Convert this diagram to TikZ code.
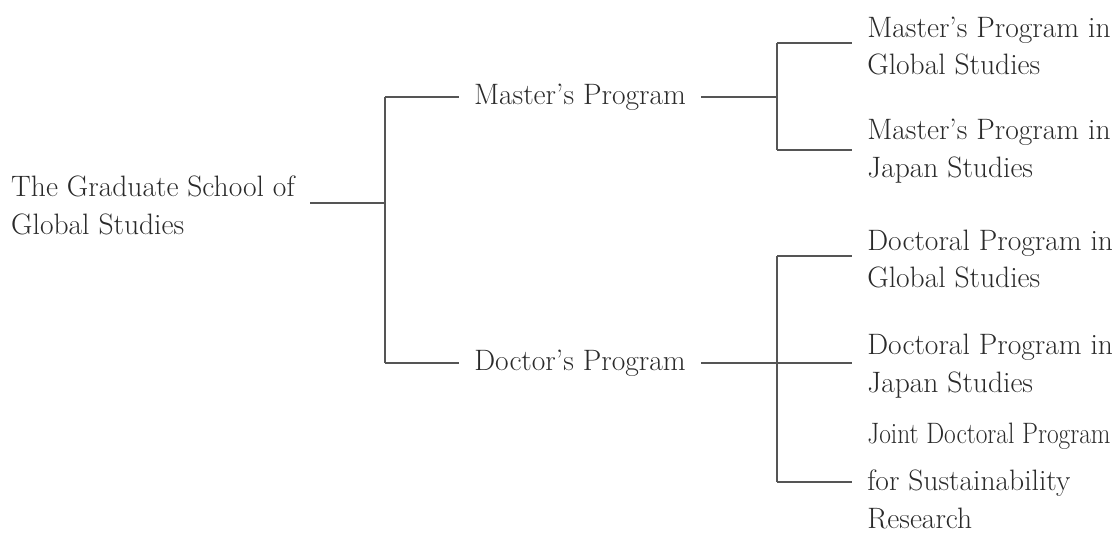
\documentclass[tikz,border=0pt]{standalone}
\usepackage{fontspec}
\usepackage{graphicx}
\usetikzlibrary{positioning}
\definecolor{txtgray}{HTML}{2A2A2A}
\definecolor{linegray}{HTML}{555555}
\begin{document}
\begin{tikzpicture}[x=0.02cm,y=-0.02cm,
  entry/.style={inner xsep=0.3cm, inner ysep=0pt, align=left, text=txtgray,
    font=\fontsize{16.8}{21.5}\selectfont},
  link/.style={draw=linegray, line width=0.6pt}]

\useasboundingbox (0,0) rectangle (1117,532);

% school and the two programs
\node[entry, anchor=east] (school) at (310,205) {The Graduate School of\\Global Studies};
\node[entry] (master) at (580,97) {Master's Program};
\node[entry] (doctor) at (580,363) {Doctor's Program};

% courses
\node[entry, anchor=west] (mglobal) at (852,46) {Master's Program in\\Global Studies};
\node[entry, anchor=west] (mjapan) at (852,151) {Master's Program in\\Japan Studies};
\node[entry, anchor=west] (dglobal) at (852,259) {Doctoral Program in\\Global Studies};
\node[entry, anchor=west] (djapan) at (852,366) {Doctoral Program in\\Japan Studies};
\node[entry, anchor=west] (joint) at (852,476)
  {\scalebox{0.86}[1]{Joint Doctoral Program}\\[5pt]for Sustainability\\Research};

% fork points
\coordinate (root) at (385,203);
\coordinate (mg) at (777,43);
\coordinate (mj) at (777,150);
\coordinate (dg) at (777,256);
\coordinate (dj) at (777,363);
\coordinate (jd) at (777,482);

\draw[link] (school.east |- root) -- (root);
\draw[link] (root |- master.west) -- (root |- doctor.west);
\draw[link] (root |- master.west) -- (master.west);
\draw[link] (root |- doctor.west) -- (doctor.west);

\draw[link] (master.east) -- (master.east -| mg);
\draw[link] (doctor.east) -- (doctor.east -| dg);
\draw[link] (mg) -- (mj);
\draw[link] (dg) -- (jd);

\foreach \p/\n in {mg/mglobal, mj/mjapan, dg/dglobal, dj/djapan, jd/joint}
  \draw[link] (\p) -- (\p -| \n.west);

\end{tikzpicture}
\end{document}
